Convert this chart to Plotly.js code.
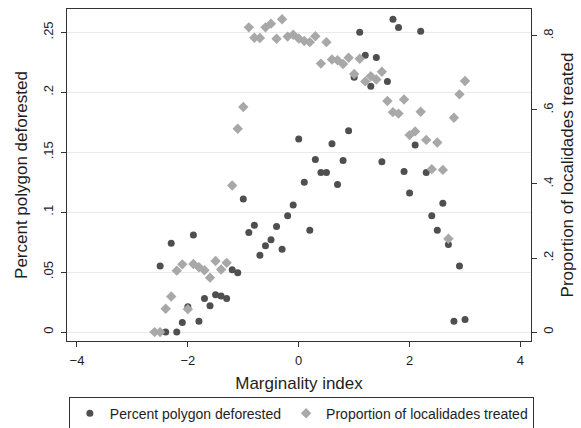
<!DOCTYPE html>
<html><head><meta charset="utf-8">
<script src="https://cdn.plot.ly/plotly-3.0.1.min.js"></script>
<style>html,body{margin:0;padding:0;background:#fff;overflow:hidden}</style>
</head><body><div id="chart" style="width:581px;height:440px"></div>
<script>
const defX = [-2.5,-2.4,-2.3,-2.2,-2.1,-2.0,-1.9,-1.8,-1.7,-1.6,-1.5,-1.4,-1.3,-1.2,-1.1,-1.0,-0.9,-0.8,-0.7,-0.6,-0.5,-0.4,-0.3,-0.2,-0.1,0.0,0.1,0.2,0.3,0.4,0.5,0.6,0.7,0.8,0.9,1.0,1.1,1.2,1.3,1.4,1.5,1.6,1.7,1.8,1.9,2.0,2.1,2.2,2.3,2.4,2.5,2.6,2.7,2.8,2.9,3.0];
const defY = [0.055,0,0.074,0,0.008,0.021,0.081,0.009,0.028,0.022,
  0.031,0.030,0.028,0.052,0.0495,0.111,0.083,0.089,0.064,0.072,
  0.077,0.088,0.069,0.097,0.106,0.161,0.125,0.085,0.144,0.133,
  0.133,0.157,0.123,0.143,0.168,0.2125,0.250,0.231,0.205,0.229,
  0.142,0.209,0.261,0.254,0.134,0.116,0.156,0.251,0.133,0.097,
  0.085,0.1075,0.073,0.009,0.055,0.0105];
const trtX = [-2.6,-2.5,-2.4,-2.3,-2.2,-2.1,-2.0,-1.9,-1.8,-1.7,-1.6,-1.5,-1.4,-1.3,-1.2,-1.1,-1.0,-0.9,-0.8,-0.7,-0.6,-0.5,-0.4,-0.3,-0.2,-0.1,0.0,0.1,0.2,0.3,0.4,0.5,0.6,0.7,0.8,0.9,1.0,1.1,1.2,1.3,1.4,1.5,1.6,1.7,1.8,1.9,2.0,2.1,2.2,2.3,2.4,2.5,2.6,2.7,2.8,2.9,3.0];
const trtY = [0,0,0.063,0.096,0.166,0.183,0.062,0.184,0.175,0.167,
  0.147,0.192,0.169,0.187,0.396,0.549,0.608,0.823,0.795,0.794,
  0.823,0.833,0.792,0.845,0.798,0.803,0.793,0.786,0.783,0.799,
  0.725,0.783,0.736,0.734,0.724,0.741,0.697,0.738,0.677,0.691,
  0.682,0.703,0.624,0.594,0.590,0.628,0.532,0.542,0.595,0.519,
  0.440,0.512,0.438,0.252,0.579,0.642,0.678];
const xTickVals = [-4,-2,0,2,4];
const leftTickVals = [0,0.05,0.1,0.15,0.2,0.25];
const leftTickText = ['0','.05','.1','.15','.2','.25'];
const rightTickVals = [0,0.2,0.4,0.6,0.8];
const rightTickText = ['0','.2','.4','.6','.8'];
const seriesNames = ['Percent polygon deforested','Proportion of localidades treated'];

const FONT = '"Liberation Sans", Arial, sans-serif';
const TXT = '#1e1e1e';
const LINE = '#333333';

const traces = [
  {x: defX, y: defY, type: 'scatter', mode: 'markers', name: seriesNames[0], yaxis: 'y',
   marker: {symbol: 'circle', size: 7, color: '#4f4f4f', line: {width: 0}}},
  {x: trtX, y: trtY, type: 'scatter', mode: 'markers', name: seriesNames[1], yaxis: 'y2',
   marker: {symbol: 'diamond', size: 8, color: '#a8a8a8', line: {width: 0}}}
];

const layout = {
  width: 581, height: 440,
  margin: {l: 67, r: 49.5, t: 9, b: 97, pad: 0},
  paper_bgcolor: '#ffffff', plot_bgcolor: '#ffffff',
  font: {family: FONT, color: TXT, size: 13},
  showlegend: true,
  legend: {orientation: 'h', x: 0.004, xanchor: 'left', y: -0.1677, yanchor: 'top',
           bordercolor: LINE, borderwidth: 1, font: {size: 14, family: FONT, color: TXT},
           bgcolor: '#ffffff', traceorder: 'normal'},
  xaxis: {range: [-4.18, 4.19], tickvals: xTickVals, showgrid: false, zeroline: false,
          showline: true, mirror: true, linecolor: LINE, linewidth: 1,
          ticks: 'outside', ticklen: 5, tickcolor: LINE, tickwidth: 1,
          ticklabelstandoff: 2,
          tickfont: {size: 13}, automargin: false,
          title: {text: 'Marginality index', font: {size: 17}, standoff: 10}},
  yaxis: {range: [-0.0075, 0.2695], tickvals: leftTickVals, ticktext: leftTickText,
          tickangle: -90, showgrid: true, gridcolor: '#eaeaea', gridwidth: 1, zeroline: false,
          showline: true, linecolor: LINE, linewidth: 1,
          ticks: 'outside', ticklen: 5, tickcolor: LINE, tickwidth: 1,
          ticklabelstandoff: 3,
          tickfont: {size: 13}, automargin: false,
          title: {text: seriesNames[0], font: {size: 17}, standoff: 8}},
  yaxis2: {range: [-0.024, 0.8725], tickvals: rightTickVals, ticktext: rightTickText,
          overlaying: 'y', side: 'right', tickangle: -90, showgrid: false, zeroline: false,
          showline: true, linecolor: LINE, linewidth: 1,
          ticks: 'outside', ticklen: 5, tickcolor: LINE, tickwidth: 1,
          tickfont: {size: 13}, automargin: false,
          title: {text: seriesNames[1], font: {size: 17}, standoff: 6}}
};

Plotly.newPlot('chart', traces, layout, {displayModeBar: false, staticPlot: true});
</script></body></html>
